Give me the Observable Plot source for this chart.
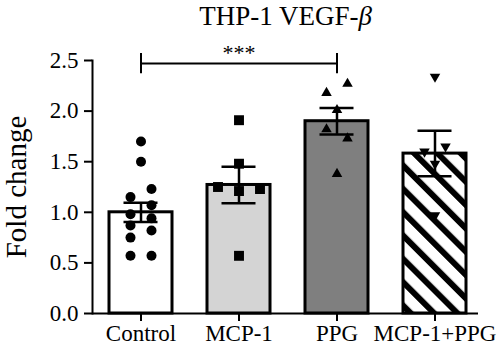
<!DOCTYPE html>
<html><head><meta charset="utf-8">
<script src="https://cdn.jsdelivr.net/npm/d3@7"></script>
<script src="https://cdn.jsdelivr.net/npm/@observablehq/plot@0.6"></script>
<style>body{margin:0;background:#fff}</style>
</head><body><div id="chart"></div>
<script>
// ---- data ----
const groups = ["Control", "MCP-1", "PPG", "MCP-1+PPG"];
const means = [1.00, 1.27, 1.90, 1.58];
const sems = [0.095, 0.18, 0.13, 0.225];
const controlPts = [1.70, 1.50, 1.23, 1.15, 1.07, 0.98, 0.94, 0.87, 0.82, 0.75, 0.57, 0.57];
const controlCol = [0, 0, 1, -1, 1, -1, 1, -1, 1, -1, -1, 1];
const mcp1Pts = [1.91, 1.48, 1.25, 1.21, 1.23, 0.57];
const mcp1Col = [0, 0, -1, 0, 1, 0];
const ppgPts = [2.18, 2.27, 2.01, 1.82, 1.73, 1.38];
const ppgCol = [-1, 1, 0, -1, 1, 0];
const comboPts = [2.34, 1.65, 1.60, 1.48, 0.97];
const comboCol = [0, 1, -1, 0, 0];
const yTicks = [0, 0.5, 1.0, 1.5, 2.0, 2.5];
const sigFrom = "Control", sigTo = "PPG", sigMid = "MCP-1", sigY = 2.47, sigLabel = "***";
const titleMain = "THP-1 VEGF-";
const titleGreek = "β";
const yLabel = "Fold change";

// ---- build tables ----
const bars = groups.map((g, i) => ({g, mean: means[i], sem: sems[i]}));
const ptsBy = [controlPts, mcp1Pts, ppgPts, comboPts];
const colBy = [controlCol, mcp1Col, ppgCol, comboCol];
const points = [];
groups.forEach((g, i) => ptsBy[i].forEach((v, j) => points.push({g, v, c: colBy[i][j]})));

const sqrt3 = Math.sqrt(3);
const triangleDown = {
  draw(context, size) {
    const y = -Math.sqrt(size / (sqrt3 * 3));
    context.moveTo(0, -y * 2);
    context.lineTo(-sqrt3 * y, y);
    context.lineTo(sqrt3 * y, y);
    context.closePath();
  }
};
const symbolOf = {"Control": "circle", "MCP-1": "square", "PPG": "triangle", "MCP-1+PPG": triangleDown};
const rOf = {"Control": 5, "MCP-1": 5.6, "PPG": 3.9, "MCP-1+PPG": 3.9};
const spreadOf = {"Control": 10.5, "MCP-1": 21, "PPG": 10.5, "MCP-1+PPG": 10.5};

const dotMarks = [];
for (const g of groups) {
  for (const c of [-1, 0, 1]) {
    dotMarks.push(Plot.dot(points.filter(d => d.g === g && d.c === c), {
      x: "g", y: "v", dx: c * spreadOf[g], symbol: symbolOf[g], r: rOf[g], fill: "black", stroke: "none"
    }));
  }
}

const font = "'Liberation Serif', 'Times New Roman', serif";
const chart = Plot.plot({
  width: 500, height: 356,
  marginLeft: 92, marginRight: 16, marginTop: 60, marginBottom: 43,
  style: {fontFamily: font, fontSize: "23px", background: "white", color: "black", overflow: "visible"},
  x: {domain: groups, paddingInner: 0.355, paddingOuter: 0.1775, label: null},
  y: {domain: [0, 2.5], label: null},
  color: {domain: groups, range: ["white", "#d4d4d4", "#7f7f7f", "url(#hatch)"]},
  marks: [
    Plot.rectY(bars, {x: "g", y: "mean", fill: "g", stroke: "black", strokeWidth: 3}),
    ...dotMarks,
    Plot.ruleX(bars, {x: "g", y1: d => d.mean - d.sem, y2: d => d.mean + d.sem, stroke: "black", strokeWidth: 2.5}),
    Plot.tickY(bars, {x: "g", y: d => d.mean + d.sem, stroke: "black", strokeWidth: 2.5, insetLeft: 14.5, insetRight: 14.5}),
    Plot.tickY(bars, {x: "g", y: d => d.mean - d.sem, stroke: "black", strokeWidth: 2.5, insetLeft: 14.5, insetRight: 14.5}),
    Plot.axisY({ticks: yTicks, tickFormat: d3.format(".1f"), tickSize: 8, tickPadding: 6, strokeWidth: 2, fontSize: 23, label: null}),
    Plot.axisX({tickSize: 8, tickPadding: 3, strokeWidth: 2, fontSize: 23, label: null}),
    Plot.ruleY([0], {stroke: "black", strokeWidth: 2, insetRight: 6}),
    Plot.frame({anchor: "left", stroke: "black", strokeWidth: 2}),
    Plot.link([{a: sigFrom, b: sigTo, y: sigY}], {x1: "a", x2: "b", y1: "y", y2: "y", stroke: "black", strokeWidth: 2}),
    Plot.ruleX([sigFrom, sigTo], {x: d => d, y1: sigY - 0.1, y2: sigY + 0.1, stroke: "black", strokeWidth: 2}),
    Plot.text([sigLabel], {x: () => sigMid, y: () => sigY, text: d => d, dy: -4, lineAnchor: "bottom", fontSize: 22}),
    Plot.text([titleMain + titleGreek], {frameAnchor: "top", text: d => d, dy: -44, dx: -3, fontSize: 27, lineAnchor: "middle", textAnchor: "middle", className: "chart-title"}),
    Plot.text([yLabel], {frameAnchor: "left", text: d => d, dx: -76, rotate: -90, fontSize: 29, lineAnchor: "middle", textAnchor: "middle"})
  ]
});

const svg = chart.tagName.toLowerCase() === "svg" ? chart : chart.querySelector("svg");
const defs = d3.select(svg).insert("defs", ":first-child");
const pat = defs.append("pattern").attr("id", "hatch").attr("patternUnits", "userSpaceOnUse")
  .attr("width", 16.5).attr("height", 16.5).attr("patternTransform", "rotate(-45)");
pat.append("rect").attr("width", 16.5).attr("height", 16.5).attr("fill", "white");
pat.append("line").attr("x1", 3).attr("x2", 3).attr("y1", -1).attr("y2", 17.5).attr("stroke", "black").attr("stroke-width", 6);

// italic Greek letter in the title
d3.select(svg).selectAll("text").each(function() {
  if (this.textContent === titleMain + titleGreek) {
    const t = d3.select(this);
    t.text(null);
    t.append("tspan").text(titleMain);
    t.append("tspan").attr("font-style", "italic").text(titleGreek);
  }
});

document.getElementById("chart").appendChild(chart);
</script>
</body></html>
